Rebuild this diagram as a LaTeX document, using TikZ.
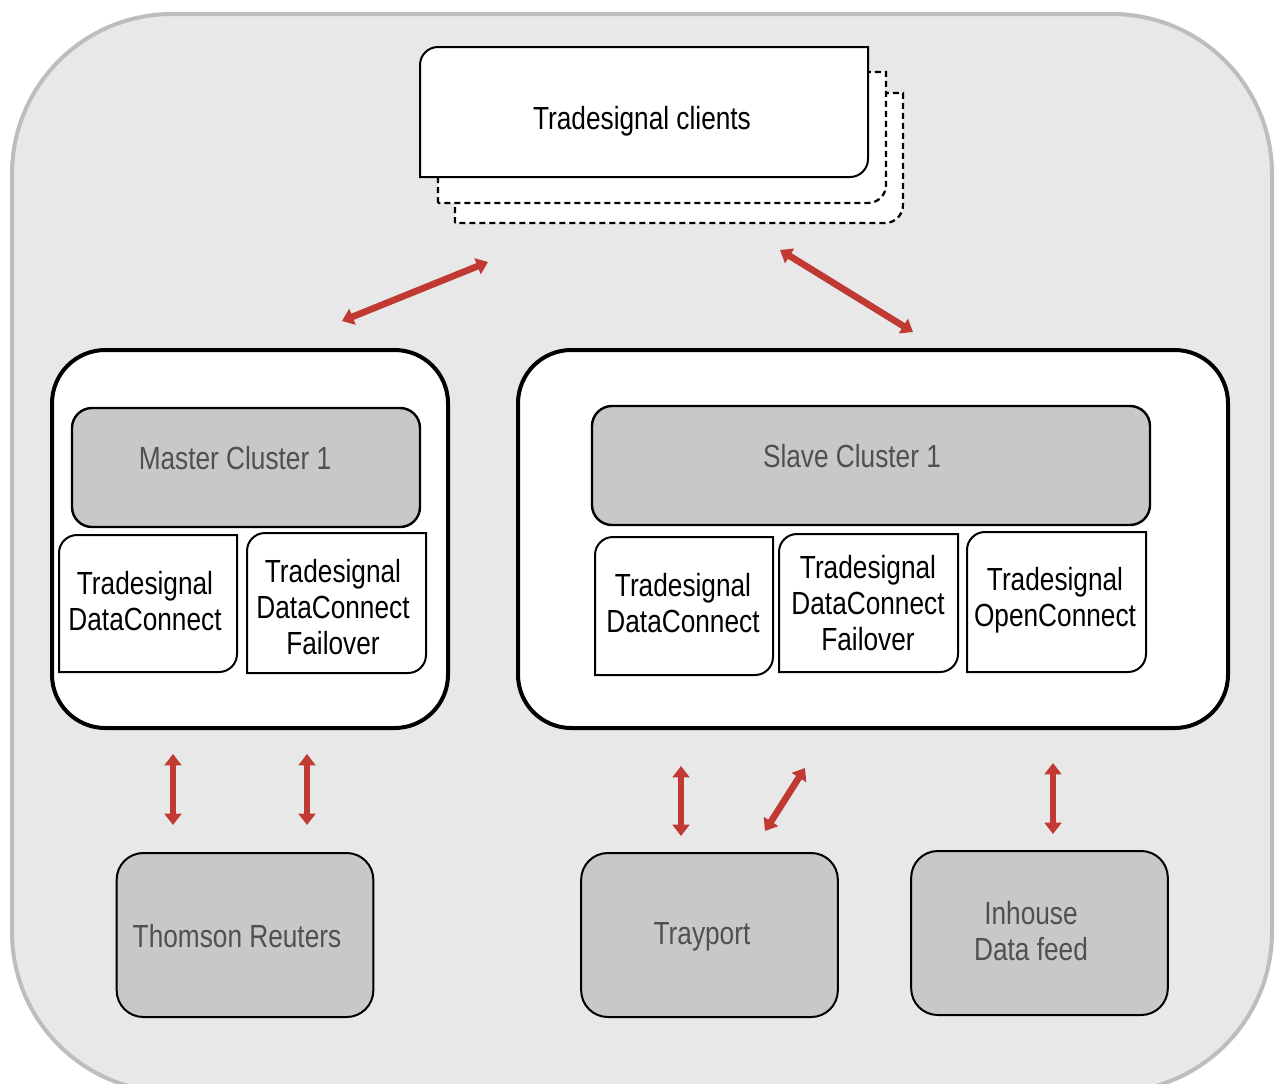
\documentclass[tikz,border=0pt]{standalone}
\usepackage{fontspec}
\setmainfont{Liberation Sans}[FakeStretch=0.82]
\usepackage{tikz}
\usetikzlibrary{arrows.meta}
\usetikzlibrary{positioning}
\definecolor{bgray}{RGB}{232,232,232}
\definecolor{rimgray}{RGB}{189,189,189}
\definecolor{boxgray}{RGB}{200,200,200}
\definecolor{txtgray}{RGB}{80,80,80}
\definecolor{arrowred}{RGB}{192,57,50}
% box with rounded top left and bottom right corner
\newcommand{\docbox}[5][]{%
  \filldraw[docline,#1] (#2,#5) -- (#2,#3+18) arc[start angle=180,end angle=90,radius=13.5pt]
    -- (#4,#3) -- (#4,#5-18) arc[start angle=0,end angle=-90,radius=13.5pt] -- cycle;}

\begin{document}
\begin{tikzpicture}[x=0.75pt,y=-0.75pt,
    font=\fontsize{24}{27}\selectfont,
    docline/.style={draw=black,fill=white,line width=1.5pt},
    backdoc/.style={dash pattern=on 4.5pt off 3pt,line width=1.7pt},
    container/.style={draw=black,fill=white,line width=3pt,rounded corners=40pt},
    cluster node/.style={draw=black,fill=boxgray,line width=1.8pt,rounded corners=15pt,text=txtgray},
    source node/.style={draw=black,fill=boxgray,line width=1.5pt,rounded corners=20pt,text=txtgray,minimum width=192.5pt,minimum height=123pt,align=center},
    label node/.style={inner sep=0pt,align=center},
    dbl/.style={{Triangle[width=12.5pt,length=8.5pt]}-{Triangle[width=12.5pt,length=8.5pt]},line width=5pt,draw=arrowred}]
  \useasboundingbox (0,0) rectangle (1282,1083);
  \begin{scope}
    \clip (0,0) rectangle (1282,1083);
    \filldraw[fill=bgray,draw=rimgray,line width=3pt,rounded corners=120pt] (12,14) rectangle (1272,1092);
  \end{scope}

  % clients
  \docbox[backdoc]{455}{93}{903}{223}
  \docbox[backdoc]{438}{72}{886}{203}
  \docbox{420}{47}{868}{177}
  \node[label node] (clients) at (642,121) {Tradesignal clients};

  % clusters
  \node[container,minimum width=297pt,minimum height=283.5pt] (master) at (250,539) {};
  \node[container,minimum width=532.5pt,minimum height=283.5pt] (slave) at (873,539) {};
  \node[cluster node,minimum width=261pt,minimum height=89.25pt] (mcl) at (246,467.5) {};
  \node[label node,text=txtgray] (mcltxt) at (235,458) {Master Cluster 1};
  \node[cluster node,minimum width=418.5pt,minimum height=89.25pt] (scl) at (871,465.5) {};
  \node[label node,text=txtgray] (scltxt) at (852,456) {Slave Cluster 1};

  \docbox{59}{535}{237}{672}
  \node[label node] (mdc) at (145,601) {Tradesignal\\DataConnect};
  \docbox{247}{533}{426}{673}
  \node[label node] (mfo) at (333,607) {Tradesignal\\DataConnect\\Failover};
  \docbox{595}{537}{773}{675}
  \node[label node] (sdc) at (683,603) {Tradesignal\\DataConnect};
  \docbox{779}{534}{958}{672}
  \node[label node] (sfo) at (868,603) {Tradesignal\\DataConnect\\Failover};
  \docbox{967}{532}{1146}{672}
  \node[label node] (soc) at (1055,600) {Tradesignal\\OpenConnect};

  % data sources
  \node[source node] (reuters) at (245,935) {};
  \node[label node,text=txtgray] (reuterstxt) at (237,936) {Thomson Reuters};
  \node[source node] (trayport) at (709.5,935) {};
  \node[label node,text=txtgray] (trayporttxt) at (702,937) {Trayport};
  \node[source node] (inhouse) at (1039.5,933) {};
  \node[label node,text=txtgray] (inhousetxt) at (1031,931) {Inhouse\\Data feed};

  % arrows
  \coordinate (a1) at (342,321); \coordinate (b1) at (488,262);
  \coordinate (a2) at (780,250); \coordinate (b2) at (913,332);
  \coordinate (a3) at (173,754); \coordinate (b3) at (173,825);
  \coordinate (a4) at (307,754); \coordinate (b4) at (307,825);
  \coordinate (a5) at (681,766); \coordinate (b5) at (681,836);
  \coordinate (a6) at (805,768); \coordinate (b6) at (765,831);
  \coordinate (a7) at (1053,763); \coordinate (b7) at (1053,834);
  \foreach \i in {1,...,7}
    \draw[dbl] (a\i) -- (b\i);
\end{tikzpicture}
\end{document}
